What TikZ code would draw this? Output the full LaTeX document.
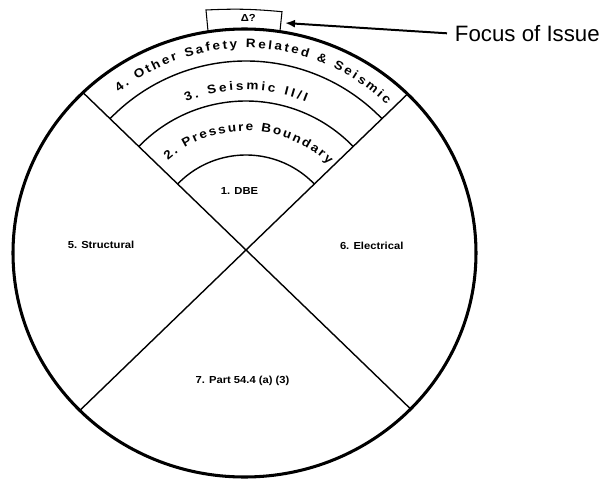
\documentclass[tikz,border=0pt]{standalone}
\usepackage{fontspec}
\setmainfont{Liberation Sans}
\newfontfamily\labelfont[FakeStretch=1.1]{Liberation Sans}
\usetikzlibrary{arrows.meta,decorations.text}
\newcommand{\bandfont}{\labelfont\bfseries\fontsize{10.5pt}{12pt}\selectfont}
\newcommand{\BandLabel}[4]{%
  \path[decorate,decoration={text along path,text align=fit to path,
    text={|\bandfont|#4}}] (#2:#1) arc[start angle=#2,end angle=#3,radius=#1];}
\tikzset{
  rimLine/.style={line width=2.6pt},
  splitLine/.style={line width=1.2pt},
  boxLine/.style={line width=0.9pt},
  flatLabel/.style={font=\labelfont\bfseries\fontsize{8.7pt}{10pt}\selectfont,inner sep=0pt},
  focusLabel/.style={font=\fontsize{19pt}{22pt}\selectfont,inner sep=0pt,outer sep=2.4mm},
}

\begin{document}
\begin{tikzpicture}[x=0.3mm,y=0.3mm]
\useasboundingbox (-246,-233) rectangle (366,250);
% outer rim
\draw[rimLine] (-1.5,-3) ellipse [x radius=231.5,y radius=224];
\begin{scope}
  \clip (-1.5,-3) ellipse [x radius=231.5,y radius=224];
  \draw[splitLine] (136:300) -- (-44:300);
  \draw[splitLine] (44:300) -- (224:300);
\end{scope}
% nested bands at the top
\draw[splitLine] (136:95) arc[start angle=136,end angle=44,radius=95];
\draw[splitLine] (136:149) arc[start angle=136,end angle=44,radius=149];
\draw[splitLine] (136:189) arc[start angle=136,end angle=44,radius=189];
\BandLabel{119}{131}{46}{2. Pressure Boundary}
\BandLabel{160}{112}{68}{3. Seismic II/I}
\BandLabel{202}{129}{46}{4. Other Safety Related {\&} Seismic}
% flat labels
\node[flatLabel] (dbe) at (-6.5,59) {1. DBE};
\node[flatLabel] (structural) at (-145,4.7) {5. Structural};
\node[flatLabel] (electrical) at (125.7,4.3) {6. Electrical};
\node[flatLabel] (part) at (-3.5,-130.5) {7. Part 54.4 (a) (3)};
% focus box and arrow
\draw[boxLine] (-38,219) -- (-40,240) to[bend left=4] (36,238.3) -- (34,219);
\node[flatLabel] (delta) at (2.3,231.7) {Δ?};
\coordinate (tip) at (39,227);
\node[focusLabel,anchor=west] (focus) at (201,216.7) {Focus of Issue};
\draw[line width=1.7pt,-{Latex[length=3mm,width=2.4mm]}] (focus.west) -- (tip);
\end{tikzpicture}
\end{document}
